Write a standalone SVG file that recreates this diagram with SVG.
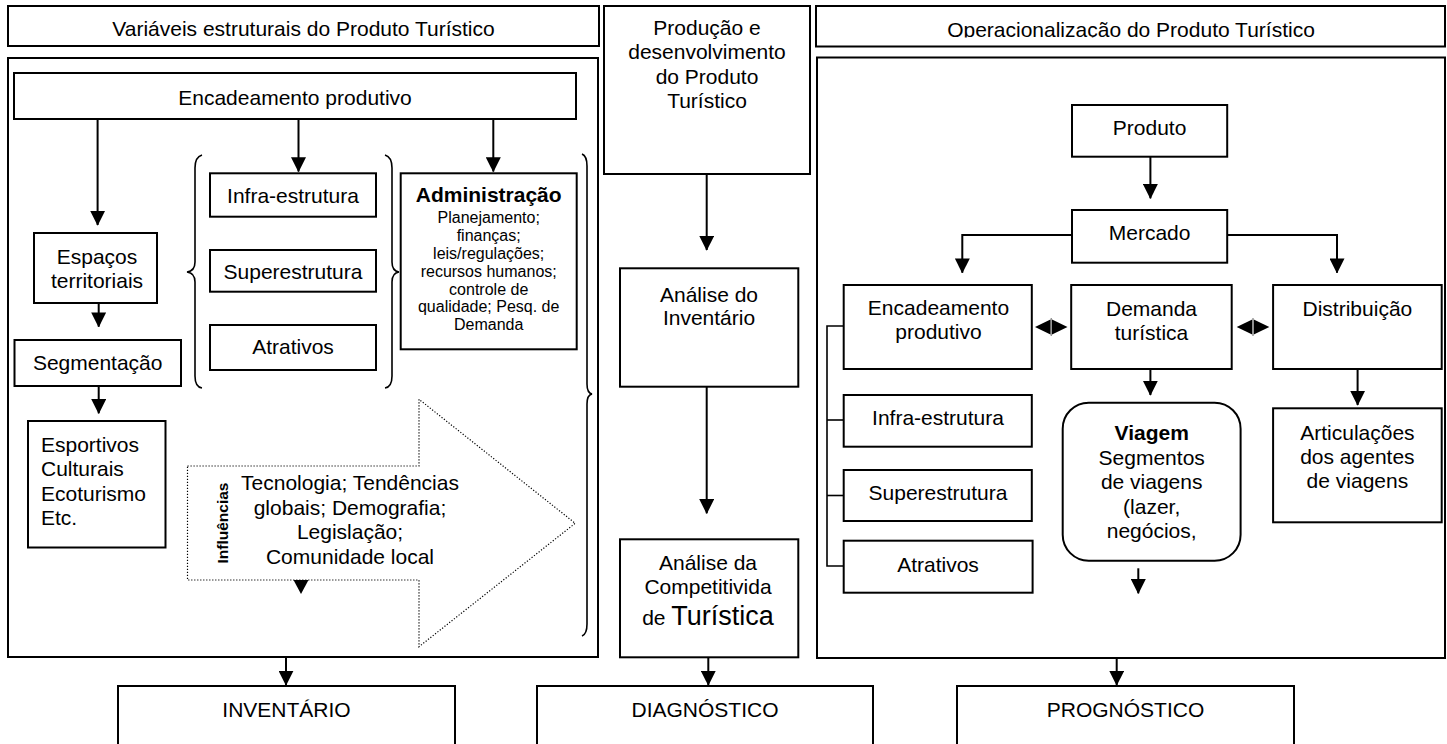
<svg xmlns="http://www.w3.org/2000/svg" width="1447" height="744" viewBox="0 0 1447 744">
  <style>
    .box { fill: #fff; stroke: #000; stroke-width: 2; }
    .frame { fill: none; stroke: #000; stroke-width: 2; }
    .t { font-family: "Liberation Sans", Arial, Helvetica, sans-serif; font-size: 21px; fill: #000; text-anchor: middle; }
    .l { text-anchor: start; }
    .b { font-weight: bold; }
    .s { font-size: 16px; }
    .ln { fill: none; stroke: #000; stroke-width: 2; }
    .tree { fill: none; stroke: #000; stroke-width: 1.6; }
    .brace { fill: none; stroke: #000; stroke-width: 1.6; }
    .arr { marker-end: url(#ah); }
    .head { fill: #000; stroke: none; }
    .dots { fill: #fff; stroke: #000; stroke-width: 1.2; stroke-dasharray: 1.2 1.8; }
  </style>
  <defs>
    <marker id="ah" viewBox="0 0 10 10" refX="9.5" refY="5" markerWidth="15" markerHeight="15" markerUnits="userSpaceOnUse" orient="auto">
      <path d="M0,0 L10,5 L0,10 z" fill="#000"/>
    </marker>
    <clipPath id="clipTop">
      <rect x="816" y="6" width="630" height="31.5"/>
    </clipPath>
  </defs>

  <rect width="1447" height="744" fill="#fff"/>

  <!-- column headers -->
  <g id="hdr-variaveis">
    <rect class="box" x="8" y="6" width="591" height="40"/>
    <text class="t" x="303.5" y="35.5">Variáveis estruturais do Produto Turístico</text>
  </g>
  <g id="hdr-operacionalizacao">
    <rect class="box" x="816" y="6" width="629" height="40.5"/>
    <text class="t" x="1131" y="37" clip-path="url(#clipTop)">Operacionalização do Produto Turístico</text>
  </g>
  <g id="producao">
    <rect class="box" x="604" y="6" width="206" height="168"/>
    <text class="t" x="707" y="34.5">Produção e<tspan x="707" dy="24.6">desenvolvimento</tspan><tspan x="707" dy="24.6">do Produto</tspan><tspan x="707" dy="24.6">Turístico</tspan></text>
  </g>

  <!-- panel frames -->
  <g id="painel-esquerdo">
    <rect class="frame" x="8" y="58" width="590" height="599"/>
  </g>
  <g id="painel-direito">
    <rect class="frame" x="817" y="57.5" width="628" height="600.5"/>
  </g>

  <!-- left panel nodes -->
  <g id="encadeamento-esq">
    <rect class="box" x="14" y="73" width="562" height="46"/>
    <text class="t" x="295" y="105">Encadeamento produtivo</text>
  </g>
  <g id="espacos">
    <rect class="box" x="34" y="233" width="123" height="70"/>
    <text class="t" x="97" y="263.5">Espaços<tspan x="97" dy="24">territoriais</tspan></text>
  </g>
  <g id="segmentacao">
    <rect class="box" x="14.5" y="340" width="166.5" height="46"/>
    <text class="t" x="97.7" y="370">Segmentação</text>
  </g>
  <g id="segmentos">
    <rect class="box" x="28" y="421" width="137.5" height="126.5"/>
    <text class="t l" x="41" y="451.5">Esportivos<tspan x="41" dy="24.6">Culturais</tspan><tspan x="41" dy="24.6">Ecoturismo</tspan><tspan x="41" dy="24.6">Etc.</tspan></text>
  </g>
  <g id="infra-esq">
    <rect class="box" x="210" y="173.3" width="166" height="43.4"/>
    <text class="t" x="293" y="203.3">Infra-estrutura</text>
  </g>
  <g id="super-esq">
    <rect class="box" x="210" y="250" width="166" height="41.7"/>
    <text class="t" x="293" y="279">Superestrutura</text>
  </g>
  <g id="atrativos-esq">
    <rect class="box" x="210" y="325" width="166" height="45"/>
    <text class="t" x="293" y="354">Atrativos</text>
  </g>
  <g id="administracao">
    <rect class="box" x="400.7" y="173.3" width="176" height="176"/>
    <text class="t b" x="488.7" y="201.7">Administração</text>
    <text class="t s" x="488.7" y="223.3">Planejamento;<tspan x="488.7" dy="17.8">finanças;</tspan><tspan x="488.7" dy="17.8">leis/regulações;</tspan><tspan x="488.7" dy="17.8">recursos humanos;</tspan><tspan x="488.7" dy="17.8">controle de</tspan><tspan x="488.7" dy="17.8">qualidade; Pesq. de</tspan><tspan x="488.7" dy="17.8">Demanda</tspan></text>
  </g>
  <g id="influencias">
    <polygon class="dots" points="187.5,466 419,466 419,399.3 575.2,523.3 419,646.7 419,580 187.5,580"/>
    <text class="t b" x="0" y="0" style="font-size:15.5px" transform="translate(227.5,523) rotate(-90)">Influências</text>
    <text class="t" x="350" y="490">Tecnologia; Tendências<tspan x="350" dy="24.6">globais; Demografia;</tspan><tspan x="350" dy="24.6">Legislação;</tspan><tspan x="350" dy="24.6">Comunidade local</tspan></text>
  </g>

  <!-- production column nodes -->
  <g id="analise-inventario">
    <rect class="box" x="620" y="268.3" width="178.3" height="118.4"/>
    <text class="t" x="709" y="301.5">Análise do<tspan x="709" dy="23.5">Inventário</tspan></text>
  </g>
  <g id="analise-competitividade">
    <rect class="box" x="620" y="539.3" width="178.3" height="118"/>
    <text class="t" x="708" y="570">Análise da<tspan x="708" dy="24">Competitivida</tspan><tspan x="708" dy="31">de <tspan style="font-size:27px">Turística</tspan></tspan></text>
  </g>

  <!-- right panel nodes -->
  <g id="produto">
    <rect class="box" x="1072" y="105" width="155.2" height="51.7"/>
    <text class="t" x="1149.6" y="135">Produto</text>
  </g>
  <g id="mercado">
    <rect class="box" x="1072" y="210" width="155.2" height="52.7"/>
    <text class="t" x="1149.6" y="240">Mercado</text>
  </g>
  <g id="encadeamento-dir">
    <rect class="box" x="843.7" y="285" width="188.1" height="84"/>
    <text class="t" x="938.5" y="315">Encadeamento<tspan x="938.5" dy="24">produtivo</tspan></text>
  </g>
  <g id="demanda">
    <rect class="box" x="1071.2" y="285" width="160.5" height="84"/>
    <text class="t" x="1151.5" y="316">Demanda<tspan x="1151.5" dy="24">turística</tspan></text>
  </g>
  <g id="distribuicao">
    <rect class="box" x="1273.1" y="285" width="168.6" height="84"/>
    <text class="t" x="1357.4" y="316">Distribuição</text>
  </g>
  <g id="infra-dir">
    <rect class="box" x="843.7" y="395" width="188.1" height="51.7"/>
    <text class="t" x="938" y="425">Infra-estrutura</text>
  </g>
  <g id="super-dir">
    <rect class="box" x="843.7" y="470" width="188.1" height="51"/>
    <text class="t" x="938" y="500">Superestrutura</text>
  </g>
  <g id="atrativos-dir">
    <rect class="box" x="843.7" y="540.7" width="188.9" height="52"/>
    <text class="t" x="938" y="571.7">Atrativos</text>
  </g>
  <g id="viagem">
    <rect class="box" x="1062.7" y="402.7" width="177.9" height="158" rx="26" ry="26"/>
    <text class="t b" x="1151.7" y="440">Viagem</text>
    <text class="t" x="1151.7" y="464.5">Segmentos<tspan x="1151.7" dy="24.5">de viagens</tspan><tspan x="1151.7" dy="24.5">(lazer,</tspan><tspan x="1151.7" dy="24.5">negócios,</tspan></text>
  </g>
  <g id="articulacoes">
    <rect class="box" x="1273.1" y="408.3" width="168.6" height="114"/>
    <text class="t" x="1357.4" y="440">Articulações<tspan x="1357.4" dy="23.8">dos agentes</tspan><tspan x="1357.4" dy="23.8">de viagens</tspan></text>
  </g>

  <!-- bottom stages -->
  <g id="inventario">
    <rect class="box" x="118" y="686" width="337" height="80"/>
    <text class="t" x="286.5" y="717">INVENTÁRIO</text>
  </g>
  <g id="diagnostico">
    <rect class="box" x="537" y="686" width="336" height="80"/>
    <text class="t" x="705" y="717">DIAGNÓSTICO</text>
  </g>
  <g id="prognostico">
    <rect class="box" x="957" y="686" width="337" height="80"/>
    <text class="t" x="1125.5" y="717">PROGNÓSTICO</text>
  </g>

  <!-- connectors -->
  <g id="conectores">
    <!-- braces grouping the left panel items -->
    <path class="brace" d="M202,155 Q195,157 195,168 L195,262 Q195,271 187,272 Q195,273 195,282 L195,376 Q195,387 202,388"/>
    <path class="brace" d="M385,155 Q392,157 392,168 L392,262 Q392,271 399,272 Q392,273 392,282 L392,376 Q392,387 385,388"/>
    <path class="brace" d="M582,154 Q587,156 587,166 L587,384 Q587,393 592,394 Q587,395 587,404 L587,624 Q587,634 582,636"/>

    <!-- left panel arrows -->
    <line class="ln arr" x1="97.6" y1="119" x2="97.6" y2="225"/>
    <line class="ln arr" x1="298.5" y1="119" x2="298.5" y2="171.5"/>
    <line class="ln arr" x1="493.3" y1="119" x2="493.3" y2="171.5"/>
    <line class="ln arr" x1="98.7" y1="303.3" x2="98.7" y2="326.7"/>
    <line class="ln arr" x1="98.7" y1="386" x2="98.7" y2="413.3"/>
    <polygon class="head" points="293.5,580 308.5,580 301,594"/>

    <!-- production column arrows -->
    <line class="ln arr" x1="706.7" y1="174" x2="706.7" y2="250"/>
    <line class="ln arr" x1="706.7" y1="386.7" x2="706.7" y2="513.3"/>

    <!-- arrows into the stage boxes -->
    <line class="ln arr" x1="286" y1="657" x2="286" y2="685"/>
    <line class="ln arr" x1="708.3" y1="657.3" x2="708.3" y2="685"/>
    <line class="ln arr" x1="1116.7" y1="658" x2="1116.7" y2="685"/>

    <!-- right panel arrows -->
    <line class="ln arr" x1="1150.4" y1="156.7" x2="1150.4" y2="198.3"/>
    <polyline class="ln arr" points="1072,235 962.3,235 962.3,272.7"/>
    <polyline class="ln arr" points="1227.2,235 1337,235 1337,272.7"/>
    <line class="ln arr" x1="1150.4" y1="369" x2="1150.4" y2="395"/>
    <line class="ln arr" x1="1357.6" y1="369" x2="1357.6" y2="405"/>
    <line class="ln arr" x1="1138.3" y1="568.3" x2="1138.3" y2="593.3"/>

    <!-- two-way links between the market branches -->
    <polygon class="head" points="1035,327 1050.5,319.5 1050.5,334.5"/>
    <polygon class="head" points="1067.5,327 1052,319.5 1052,334.5"/>
    <line x1="1051.2" y1="318" x2="1051.2" y2="336" stroke="#000" stroke-width="0.6"/>
    <polygon class="head" points="1236.7,327 1252.2,319.5 1252.2,334.5"/>
    <polygon class="head" points="1269.3,327 1253.8,319.5 1253.8,334.5"/>
    <line x1="1253" y1="318" x2="1253" y2="336" stroke="#000" stroke-width="0.6"/>

    <!-- tree linking the productive chain items -->
    <polyline class="tree" points="843.7,326 827,326 827,566 843.7,566"/>
    <line class="tree" x1="827" y1="420" x2="843.7" y2="420"/>
    <line class="tree" x1="827" y1="495.5" x2="843.7" y2="495.5"/>
  </g>
</svg>
